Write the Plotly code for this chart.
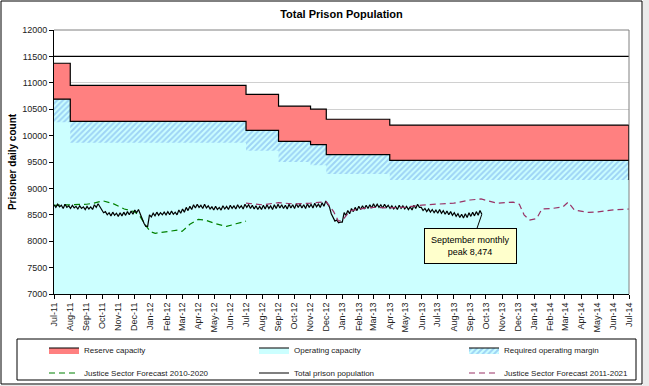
import pandas as pd
import plotly.graph_objects as go

# ---------------- data ----------------
cap_dates = ["2011-07-01", "2011-08-01", "2012-07-01", "2012-09-01", "2012-11-01",
             "2012-12-01", "2013-04-01", "2014-07-01"]
reserve_top = [11370, 10950, 10780, 10560, 10500, 10310, 10200, 10200]
operating = [10690, 10270, 10100, 9890, 9830, 9640, 9530, 9530]
margin = [435, 405, 385, 390, 390, 365, 370, 370]

# total prison population, sampled twice a week from 1 Jul 2011
pop = [
    8690, 8640, 8700, 8650, 8680, 8620, 8700, 8640, 8670, 8620,             # Jul-11
    8680, 8630, 8660, 8610, 8670, 8620, 8650, 8600,                         # Aug-11
    8660, 8610, 8650, 8600, 8690, 8640, 8710, 8650,                         # Sep-11
    8600, 8540, 8560, 8500, 8540, 8480, 8550, 8490, 8530, 8470,             # Oct-11
    8540, 8480, 8550, 8490, 8560, 8500, 8570, 8510,                         # Nov-11
    8590, 8540, 8600, 8500, 8430, 8340, 8280, 8280,                         # Dec-11
    8500, 8460, 8530, 8480, 8550, 8490, 8540, 8500, 8550, 8500,             # Jan-12
    8560, 8500, 8570, 8510, 8550, 8500, 8590, 8530,                         # Feb-12
    8610, 8550, 8640, 8580, 8660, 8600, 8690, 8630,                         # Mar-12
    8700, 8640, 8680, 8620, 8700, 8630, 8670, 8610,                         # Apr-12
    8650, 8590, 8660, 8600, 8640, 8590, 8670, 8610, 8660, 8600,             # May-12
    8680, 8620, 8670, 8610, 8690, 8630, 8670, 8610,                         # Jun-12
    8700, 8640, 8690, 8620, 8680, 8610, 8670, 8600, 8660, 8600,             # Jul-12
    8680, 8610, 8690, 8620, 8670, 8600, 8690, 8620,                         # Aug-12
    8700, 8630, 8690, 8620, 8680, 8610, 8700, 8630,                         # Sep-12
    8690, 8620, 8710, 8640, 8700, 8630, 8690, 8620, 8710, 8640,             # Oct-12
    8700, 8630, 8720, 8650, 8700, 8640, 8730, 8660,                         # Nov-12
    8760, 8700, 8650, 8520, 8450, 8380, 8400, 8350, 8360, 8360,             # Dec-12
    8540, 8490, 8580, 8520, 8620, 8560, 8640, 8580,                         # Jan-13
    8660, 8600, 8670, 8610, 8680, 8620, 8690, 8630,                         # Feb-13
    8710, 8640, 8700, 8640, 8690, 8630, 8700, 8640,                         # Mar-13
    8680, 8620, 8670, 8610, 8660, 8600, 8680, 8620, 8670, 8610,             # Apr-13
    8660, 8600, 8650, 8590, 8680, 8620, 8700, 8640,                         # May-13
    8640, 8580, 8620, 8560, 8610, 8550, 8600, 8540,                         # Jun-13
    8590, 8530, 8600, 8530, 8580, 8510, 8570, 8500, 8560, 8490,             # Jul-13
    8540, 8470, 8520, 8450, 8510, 8440, 8520, 8450,                         # Aug-13
    8540, 8470, 8550, 8480, 8560, 8490, 8580, 8510,                         # Sep-13
]
pop_dates = pd.date_range("2011-07-01", periods=len(pop), freq="84h")

f2010_dates = ["2011-07-01", "2011-08-01", "2011-09-01", "2011-09-15", "2011-10-02",
               "2011-10-21", "2011-11-12", "2011-12-01", "2011-12-12", "2011-12-22",
               "2012-01-01", "2012-01-10", "2012-02-03", "2012-02-22", "2012-03-01",
               "2012-03-16", "2012-04-01", "2012-04-15", "2012-05-01", "2012-05-25",
               "2012-06-12", "2012-07-01"]
f2010 = [8680, 8690, 8700, 8720, 8765, 8715, 8610, 8560, 8470, 8310,
         8180, 8150, 8180, 8210, 8185, 8320, 8415, 8400, 8340, 8280,
         8330, 8380]

f2011_dates = ["2012-07-01", "2012-08-01", "2012-09-01", "2012-10-01", "2012-11-01",
               "2012-12-01", "2012-12-15", "2012-12-24", "2013-01-01", "2013-01-15",
               "2013-02-01", "2013-03-01", "2013-04-01", "2013-05-01", "2013-06-01",
               "2013-07-01", "2013-08-01", "2013-09-01", "2013-09-22", "2013-10-22",
               "2013-11-22", "2013-12-04", "2013-12-13", "2013-12-23", "2014-01-06",
               "2014-01-16", "2014-02-05", "2014-02-25", "2014-03-07", "2014-03-19",
               "2014-04-15", "2014-05-03", "2014-05-28", "2014-07-01"]
f2011 = [8720, 8690, 8730, 8705, 8720, 8750, 8560, 8380, 8400, 8570,
         8610, 8640, 8630, 8645, 8685, 8705, 8720, 8780, 8800, 8720,
         8740, 8700, 8500, 8400, 8430, 8610, 8620, 8650, 8740, 8590,
         8545, 8555, 8590, 8610]

tick_dates = pd.date_range("2011-07-01", "2014-07-01", freq="MS")
tick_text = [d.strftime("%b-%y") for d in tick_dates]

lower = [o - m for o, m in zip(operating, margin)]

FONT = "Liberation Sans, Arial, sans-serif"

fig = go.Figure()

# operating capacity (cyan area)
fig.add_trace(go.Scatter(
    x=cap_dates, y=operating, mode="lines", line=dict(shape="hv", color="black", width=1.2),
    fill="tozeroy", fillcolor="#CCFFFF", name="Operating capacity",
    legend="legend", legendrank=2, hoverinfo="skip"))
# lower edge of required margin
fig.add_trace(go.Scatter(
    x=cap_dates, y=lower, mode="lines", line=dict(shape="hv", color="rgba(0,0,0,0)", width=0),
    showlegend=False, hoverinfo="skip"))
# required operating margin (hatched)
fig.add_trace(go.Scatter(
    x=cap_dates, y=operating, mode="lines", line=dict(shape="hv", color="black", width=1.2),
    fill="tonexty", fillcolor="#CCFFFF",
    fillpattern=dict(shape="/", fgcolor="#6FA8EC", bgcolor="#CCFFFF", size=4, solidity=0.5),
    name="Required operating margin", legend="legend", legendrank=3, hoverinfo="skip"))
# reserve capacity
fig.add_trace(go.Scatter(
    x=cap_dates, y=reserve_top, mode="lines", line=dict(shape="hv", color="black", width=1.2),
    fill="tonexty", fillcolor="#FF8080", name="Reserve capacity",
    legend="legend", legendrank=1, hoverinfo="skip"))
# forecasts and population
fig.add_trace(go.Scatter(
    x=f2010_dates, y=f2010, mode="lines", line=dict(color="#008000", width=1.2, dash="6px,4px"),
    name="Justice Sector Forecast 2010-2020", legend="legend2", legendrank=4))
fig.add_trace(go.Scatter(
    x=pop_dates, y=pop, mode="lines", line=dict(color="black", width=1.2),
    name="Total prison population", legend="legend2", legendrank=5))
fig.add_trace(go.Scatter(
    x=f2011_dates, y=f2011, mode="lines", line=dict(color="#993366", width=1.2, dash="6px,4px"),
    name="Justice Sector Forecast 2011-2021", legend="legend2", legendrank=6))

# ---------------- layout helpers (pixel -> paper) ----------------
L, R, T, B = 54, 20, 30, 92
W, H = 649, 386
pw, ph = W - L - R, H - T - B
def px(x):
    return (x - L) / pw
def py(y):
    return (H - B - y) / ph

shapes = [
    # 11500 black line
    dict(type="line", xref="paper", yref="y", x0=0, x1=1, y0=11500, y1=11500,
         line=dict(color="black", width=1.2), layer="above"),
    # plot border top/right (gray)
    dict(type="line", xref="paper", yref="paper", x0=0, x1=1, y0=1, y1=1,
         line=dict(color="#808080", width=1), layer="above"),
    dict(type="line", xref="paper", yref="paper", x0=1, x1=1, y0=0, y1=1,
         line=dict(color="#808080", width=1), layer="above"),
    # right edge of the capacity areas
    dict(type="line", xref="x", yref="y", x0=cap_dates[-1], x1=cap_dates[-1],
         y0=lower[-1], y1=reserve_top[-1], line=dict(color="black", width=1.2), layer="above"),
    # legend box
    dict(type="rect", xref="paper", yref="paper", x0=px(17), x1=px(636), y0=py(380), y1=py(339),
         line=dict(color="black", width=1), layer="below"),
    # outer gray area and chart border
    dict(type="rect", xref="paper", yref="paper", x0=px(643), x1=px(652), y0=py(390), y1=py(-2),
         line=dict(width=0), fillcolor="#EBEBEB", layer="below"),
    dict(type="rect", xref="paper", yref="paper", x0=px(-2), x1=px(652), y0=py(390), y1=py(385),
         line=dict(width=0), fillcolor="#EBEBEB", layer="below"),
    dict(type="rect", xref="paper", yref="paper", x0=px(1), x1=px(642), y0=py(384), y1=py(1),
         line=dict(color="black", width=1), layer="below"),
]

fig.update_layout(
    width=W, height=H,
    margin=dict(l=L, r=R, t=T, b=B, autoexpand=False),
    paper_bgcolor="white", plot_bgcolor="white",
    font=dict(family=FONT, size=9, color="black"),
    title=dict(text="<b>Total Prison Population</b>", x=0.5, xref="paper", y=1 - 14 / H,
               yanchor="middle", font=dict(family=FONT, size=11, color="black")),
    showlegend=True,
    legend=dict(orientation="h", x=px(44), xanchor="left", y=py(350), yanchor="middle",
                font=dict(family=FONT, size=8, color="#222"), entrywidth=165,
                bgcolor="rgba(0,0,0,0)", borderwidth=0, traceorder="normal"),
    legend2=dict(orientation="h", x=px(44), xanchor="left", y=py(373), yanchor="middle",
                 font=dict(family=FONT, size=8, color="#222"), entrywidth=165,
                 bgcolor="rgba(0,0,0,0)", borderwidth=0, traceorder="normal"),
    xaxis=dict(type="date", range=["2011-07-01", "2014-07-01"],
               tickmode="array", tickvals=tick_dates, ticktext=tick_text, tickangle=-90,
               ticks="outside", ticklen=4, tickcolor="black",
               showgrid=False, showline=True, linecolor="black", linewidth=1,
               tickfont=dict(family=FONT, size=9, color="#222")),
    yaxis=dict(range=[7000, 12000], dtick=500, tickformat="d",
               ticks="outside", ticklen=4, tickcolor="black",
               showgrid=True, gridcolor="#D0D0D0", gridwidth=1,
               showline=True, linecolor="black", linewidth=1,
               title=dict(text="<b>Prisoner daily count</b>", standoff=3,
                          font=dict(family=FONT, size=10, color="black")),
               tickfont=dict(family=FONT, size=9, color="#222")),
    shapes=shapes,
    annotations=[dict(
        x=pop_dates[-1], y=pop[-1], xref="x", yref="y",
        text="September monthly<br>peak 8,474", showarrow=True, arrowhead=0,
        arrowwidth=1, arrowcolor="black", ax=-11, ay=32,
        bgcolor="#FFFFCC", bordercolor="black", borderwidth=1, borderpad=6,
        font=dict(family=FONT, size=9, color="black"), align="center")],
)

fig.write_html("out.html", config={"displayModeBar": False},
               post_script="document.body.style.margin='0px';document.body.style.overflow='hidden';")
